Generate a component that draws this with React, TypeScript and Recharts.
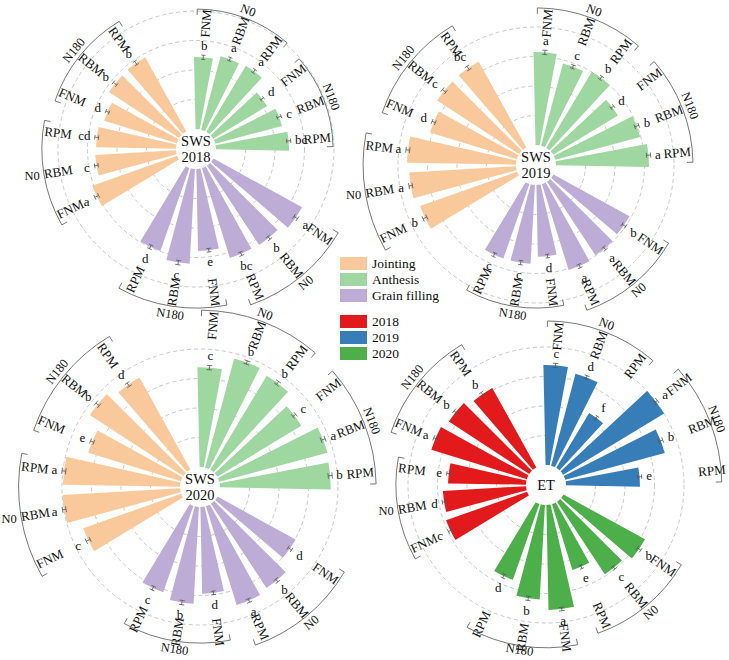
import { RadialBarChart, RadialBar, PolarAngleAxis, PolarRadiusAxis, PolarGrid, Cell } from "recharts";

const W = 729;
const H = 660;

const STAGES = ["Jointing", "Anthesis", "Grain filling"];
const YEARS = ["2018", "2019", "2020"];
const TREATMENTS = ["FNM", "RBM", "RPM", "FNM", "RBM", "RPM"];
const N_GROUPS = ["N0", "N180"];
const GRID_VALUES = [25, 50, 75, 100];

// SWS 2018 (N0 FNM, RBM, RPM, N180 FNM, RBM, RPM)
const sws2018Anthesis = [61.0, 64.4, 65.3, 53.4, 58.5, 61.9];
const sws2018AnthesisSig = ["b", "a", "a", "d", "c", "bc"];
const sws2018Grain = [85.6, 80.5, 79.7, 69.5, 80.5, 74.6];
const sws2018GrainSig = ["a", "b", "bc", "e", "c", "d"];
const sws2018Jointing = [76.3, 68.6, 67.8, 64.4, 71.2, 72.0];
const sws2018JointingSig = ["a", "c", "cd", "d", "b", "b"];

// SWS 2019
const sws2019Anthesis = [78.8, 72.0, 75.1, 64.2, 74.6, 78.8];
const sws2019AnthesisSig = ["a", "c", "b", "d", "b", "a"];
const sws2019Grain = [73.4, 74.6, 76.3, 60.8, 66.8, 67.0];
const sws2019GrainSig = ["b", "a", "a", "d", "c", "c"];
const sws2019Jointing = [87.3, 90.7, 92.4, 77.1, 83.1, 83.4];
const sws2019JointingSig = ["b", "a", "a", "d", "c", "bc"];

// SWS 2020
const sws2020Anthesis = [84.5, 95.8, 93.0, 83.4, 94.9, 93.8];
const sws2020AnthesisSig = ["c", "b", "b", "c", "a", "b"];
const sws2020Grain = [75.4, 85.6, 87.8, 73.5, 82.2, 77.6];
const sws2020GrainSig = ["d", "b", "a", "d", "b", "c"];
const sws2020Jointing = [88.0, 99.7, 99.2, 82.2, 94.6, 89.0];
const sws2020JointingSig = ["c", "a", "a", "e", "b", "d"];

// ET
const et2018 = [72.9, 70.6, 66.1, 84.7, 81.4, 77.1];
const et2018Sig = ["c", "d", "e", "a", "b", "b"];
const et2019 = [84.7, 80.5, 54.2, 100.0, 87.3, 62.7];
const et2019Sig = ["c", "d", "f", "a", "b", "e"];
const et2020 = [78.8, 73.7, 58.5, 89.0, 80.3, 68.2];
const et2020Sig = ["b", "c", "e", "a", "b", "d"];

// standard errors (small, all panels)
const errSmall = [1.8, 1.5, 1.6, 1.5, 1.8, 1.7];

const C = {
  jointing: "#FAC99B",
  anthesis: "#9FD7A0",
  grain: "#BDACD6",
  y2018: "#E31A1C",
  y2019: "#377EB8",
  y2020: "#4DAF4A",
};

// geometry
const R0 = 20; // radius of the hub, value 0
const K = 1.18; // px per unit
const DOMAIN_MAX = 125;
const R_OUT = R0 + DOMAIN_MAX * K;
const STEP = 16.1; // degrees between neighbouring bars
const FIRST = 4.5; // bearing of the first bar
const BAR_DEG = 11.8;
const GROUP_FONT = 12.5;
const FONT = '"Liberation Serif", "Times New Roman", Times, serif';

const bearingOf = (s: number, i: number) => FIRST + 120 * s + STEP * i;
const rOf = (v: number) => R0 + v * K;
const pt = (cx: number, cy: number, r: number, b: number) => {
  const a = (b * Math.PI) / 180;
  return [cx + r * Math.sin(a), cy - r * Math.cos(a)];
};
const clamp = (v: number, lo: number, hi: number) => Math.max(lo, Math.min(hi, v));

// half extents of a rotated label's box
const halfBox = (label: string, rot: number) => {
  const w = label.length * GROUP_FONT * 0.5;
  const h = GROUP_FONT * 1.15;
  const a = (rot * Math.PI) / 180;
  return [
    (w * Math.abs(Math.cos(a)) + h * Math.abs(Math.sin(a))) / 2,
    (w * Math.abs(Math.sin(a)) + h * Math.abs(Math.cos(a))) / 2,
  ];
};

interface Stage {
  vals: number[];
  err: number[];
  sig: string[];
  color: string;
}
interface Panel {
  cx: number;
  cy: number;
  title: string[];
  ring: Stage[];
}

const PANELS: Panel[] = [
  {
    cx: 196, cy: 149, title: ["SWS", "2018"],
    ring: [
      { vals: sws2018Anthesis, err: errSmall, sig: sws2018AnthesisSig, color: C.anthesis },
      { vals: sws2018Grain, err: errSmall, sig: sws2018GrainSig, color: C.grain },
      { vals: sws2018Jointing, err: errSmall, sig: sws2018JointingSig, color: C.jointing },
    ],
  },
  {
    cx: 536, cy: 165, title: ["SWS", "2019"],
    ring: [
      { vals: sws2019Anthesis, err: errSmall, sig: sws2019AnthesisSig, color: C.anthesis },
      { vals: sws2019Grain, err: errSmall, sig: sws2019GrainSig, color: C.grain },
      { vals: sws2019Jointing, err: errSmall, sig: sws2019JointingSig, color: C.jointing },
    ],
  },
  {
    cx: 200, cy: 487, title: ["SWS", "2020"],
    ring: [
      { vals: sws2020Anthesis, err: errSmall, sig: sws2020AnthesisSig, color: C.anthesis },
      { vals: sws2020Grain, err: errSmall, sig: sws2020GrainSig, color: C.grain },
      { vals: sws2020Jointing, err: errSmall, sig: sws2020JointingSig, color: C.jointing },
    ],
  },
  {
    cx: 546, cy: 485, title: ["ET"],
    ring: [
      { vals: et2019, err: errSmall, sig: et2019Sig, color: C.y2019 },
      { vals: et2020, err: errSmall, sig: et2020Sig, color: C.y2020 },
      { vals: et2018, err: errSmall, sig: et2018Sig, color: C.y2018 },
    ],
  },
];

function RingChart({ panel }: { panel: Panel }) {
  const rows = panel.ring.flatMap((st, s) =>
    st.vals.map((v, i) => ({ pos: bearingOf(s, i), value: v, fill: st.color }))
  );
  return (
    <div style={{ position: "absolute", left: 0, top: 0 }}>
      <RadialBarChart
        width={W}
        height={H}
        cx={panel.cx}
        cy={panel.cy}
        innerRadius={R0}
        outerRadius={R_OUT}
        startAngle={90}
        endAngle={-270}
        data={rows}
        layout="centric"
        margin={{ top: 0, right: 0, bottom: 0, left: 0 }}
      >
        <PolarGrid
          gridType="circle"
          radialLines={false}
          polarRadius={GRID_VALUES.map(rOf)}
          stroke="#c8c8c8"
          strokeDasharray="4 3"
        />
        <PolarAngleAxis type="number" dataKey="pos" domain={[0, 360]} tick={false} axisLine={false} />
        <PolarRadiusAxis type="number" domain={[0, DOMAIN_MAX]} tick={false} axisLine={false} />
        <RadialBar dataKey="value" barSize={BAR_DEG} isAnimationActive={false}>
          {rows.map((r, i) => (
            <Cell key={i} fill={r.fill} />
          ))}
        </RadialBar>
      </RadialBarChart>
    </div>
  );
}

function Annotations({ panel }: { panel: Panel }) {
  const { cx, cy } = panel;
  const els: any[] = [];
  panel.ring.forEach((st, s) => {
    N_GROUPS.forEach((g, gi) => {
      const idx = [0, 1, 2].map((k) => gi * 3 + k);
      const top = Math.max(...idx.map((i) => st.vals[i] + st.err[i]));
      const bm = bearingOf(s, idx[1]);
      const horizontal = bm > 240 && bm < 290;
      const gOff = horizontal ? 12 : 8;
      const gRot = horizontal ? 0 : bm > 90 && bm < 270 ? bm - 180 : bm > 180 ? bm - 360 : bm;
      const [hx, hy] = halfBox(g, gRot);
      const fits = (x: number, y: number) => x >= hx + 1 && x <= W - hx - 1 && y >= hy + 1 && y <= H - hy - 1;
      const nameR = rOf(top) + 13;
      // bracket radius, pulled in a little when its label would leave the picture
      let brR = nameR + 29;
      while (brR > nameR + 23) {
        const [tx, ty] = pt(cx, cy, brR + gOff, bm);
        if (fits(tx, ty)) break;
        brR -= 1;
      }
      idx.forEach((i) => {
        const b = bearingOf(s, i);
        const v = st.vals[i];
        const e = st.err[i];
        const [x1, y1] = pt(cx, cy, rOf(v - e), b);
        const [x2, y2] = pt(cx, cy, rOf(v + e), b);
        const key = `${s}-${i}`;
        const capA = [pt(cx, cy, rOf(v - e), b - 1.3), pt(cx, cy, rOf(v - e), b + 1.3)];
        const capB = [pt(cx, cy, rOf(v + e), b - 1.3), pt(cx, cy, rOf(v + e), b + 1.3)];
        els.push(
          <g key={`e${key}`} stroke="#555" strokeWidth={0.8}>
            <line x1={x1} y1={y1} x2={x2} y2={y2} />
            <line x1={capA[0][0]} y1={capA[0][1]} x2={capA[1][0]} y2={capA[1][1]} />
            <line x1={capB[0][0]} y1={capB[0][1]} x2={capB[1][0]} y2={capB[1][1]} />
          </g>
        );
        const a = (b * Math.PI) / 180;
        const w = st.sig[i].length * 6;
        const lr = rOf(v + e) + 4 + Math.abs(Math.sin(a)) * (w / 2) + Math.abs(Math.cos(a)) * 5.5;
        const [lx, ly] = pt(cx, cy, lr, b);
        els.push(
          <text key={`l${key}`} x={lx} y={ly} textAnchor="middle" dominantBaseline="central" fontSize={13}>
            {st.sig[i]}
          </text>
        );
        const [nx, ny] = pt(cx, cy, nameR, b);
        const right = b % 360 < 180;
        const rot = right ? b - 90 : b - 270;
        els.push(
          <text
            key={`n${key}`}
            x={nx}
            y={ny}
            textAnchor={right ? "start" : "end"}
            dominantBaseline="central"
            fontSize={13}
            transform={`rotate(${rot} ${nx} ${ny})`}
          >
            {TREATMENTS[i]}
          </text>
        );
      });
      const b0 = bearingOf(s, idx[0]) - 4;
      const b1 = bearingOf(s, idx[2]) + 4;
      const [ax, ay] = pt(cx, cy, brR, b0);
      const [bx, by] = pt(cx, cy, brR, b1);
      const [ax2, ay2] = pt(cx, cy, brR - 6, b0);
      const [bx2, by2] = pt(cx, cy, brR - 6, b1);
      els.push(
        <path
          key={`br${s}-${gi}`}
          d={`M${ax2},${ay2} L${ax},${ay} A${brR},${brR} 0 0 1 ${bx},${by} L${bx2},${by2}`}
          fill="none"
          stroke="#555"
          strokeWidth={0.8}
        />
      );
      const [gx0, gy0] = pt(cx, cy, brR + gOff, bm);
      const gx = clamp(gx0, hx + 1, W - hx - 1);
      const gy = clamp(gy0, hy + 1, H - hy - 1);
      els.push(
        <text
          key={`g${s}-${gi}`}
          x={gx}
          y={gy}
          textAnchor="middle"
          dominantBaseline="central"
          fontSize={GROUP_FONT}
          transform={`rotate(${gRot} ${gx} ${gy})`}
        >
          {g}
        </text>
      );
    });
  });
  const t = panel.title;
  return (
    <g>
      {els}
      {t.map((line, k) => (
        <text
          key={`t${k}`}
          x={cx}
          y={cy + (k - (t.length - 1) / 2) * 16}
          textAnchor="middle"
          dominantBaseline="central"
          fontSize={14.5}
        >
          {line}
        </text>
      ))}
    </g>
  );
}

function Legend() {
  const items = [
    ...STAGES.map((s, k) => ({ label: s, color: [C.jointing, C.anthesis, C.grain][k], y: 263.5 + k * 16 })),
    ...YEARS.map((y, k) => ({ label: y, color: [C.y2018, C.y2019, C.y2020][k], y: 321.5 + k * 16 })),
  ];
  return (
    <g>
      {items.map((it) => (
        <g key={it.label}>
          <rect x={340} y={it.y - 6.5} width={27} height={13} fill={it.color} />
          <text x={372} y={it.y} dominantBaseline="central" fontSize={13.5}>
            {it.label}
          </text>
        </g>
      ))}
    </g>
  );
}

export default function App() {
  return (
    <div style={{ position: "absolute", left: 0, top: 0, width: W, height: H, background: "#fff" }}>
      {PANELS.map((p, k) => (
        <RingChart key={k} panel={p} />
      ))}
      <svg
        width={W}
        height={H}
        style={{ position: "absolute", left: 0, top: 0, pointerEvents: "none", fontFamily: FONT }}
      >
        <g style={{ fontFamily: FONT }} fill="#111">
          {PANELS.map((p, k) => (
            <Annotations key={k} panel={p} />
          ))}
          <Legend />
        </g>
      </svg>
    </div>
  );
}
